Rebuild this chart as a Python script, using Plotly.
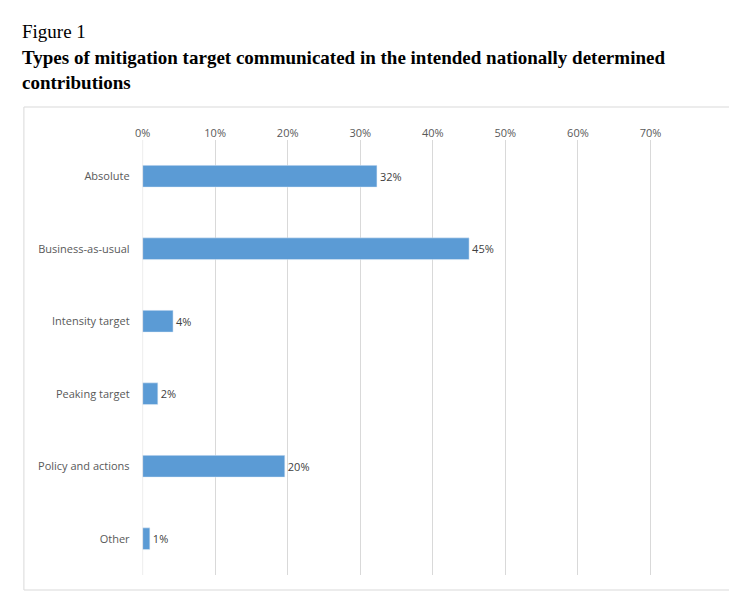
import plotly.graph_objects as go

categories = ["Absolute", "Business-as-usual", "Intensity target", "Peaking target", "Policy and actions", "Other"]
values = [32.3, 45, 4.2, 2.1, 19.6, 1.0]
labels = ["32%", "45%", "4%", "2%", "20%", "1%"]
tick_vals = [0, 10, 20, 30, 40, 50, 60, 70, 80]
tick_text = [f"{v}%" for v in tick_vals]

OFF = 8  # default page body margin
W, H = 737 - 2 * OFF, 602 - 2 * OFF
px = lambda x: (x - OFF) / W
py = lambda y: 1 - (y - OFF) / H

fig = go.Figure(go.Bar(
    x=values, y=categories, orientation="h", width=0.3,
    marker_color="#5b9bd5", text=labels, textposition="outside",
    textfont=dict(size=11, color="#404040"), cliponaxis=False,
))
fig.update_layout(
    width=W, height=H, margin=dict(l=0, r=0, t=0, b=0),
    plot_bgcolor="white", paper_bgcolor="white",
    font=dict(family="Open Sans, Liberation Sans", size=11, color="#595959"),
    showlegend=False,
    xaxis=dict(domain=[px(136), px(723)], range=[0, 80], side="top", tickvals=tick_vals,
               ticktext=tick_text, showgrid=True, gridcolor="#d9d9d9", zeroline=False,
               showline=False, ticks="", tickfont=dict(size=11, color="#595959")),
    yaxis=dict(domain=[py(575), py(140)], range=[5.5, -0.5], ticks="", showline=False,
               ticklabelstandoff=12, tickfont=dict(size=11, color="#595959")),
    shapes=[
        dict(type="rect", xref="paper", yref="paper", x0=px(16), x1=px(736), y0=py(590), y1=py(107),
             line=dict(color="#d9d9d9", width=1)),
        dict(type="line", xref="x", yref="paper", x0=0, x1=0, y0=py(575), y1=py(140),
             line=dict(color="#d9d9d9", width=1)),
    ],
    annotations=[
        dict(text="Figure 1", xref="paper", yref="paper", x=px(12), y=py(32),
             xanchor="left", yanchor="middle", showarrow=False,
             font=dict(family="Liberation Serif", size=19, color="black")),
        dict(text="<b>Types of mitigation target communicated in the intended nationally determined<br>contributions</b>",
             xref="paper", yref="paper", x=px(12), y=py(70), xanchor="left", yanchor="middle",
             align="left", showarrow=False,
             font=dict(family="Liberation Serif", size=19, color="black")),
    ],
)
fig.write_html("out.html")
